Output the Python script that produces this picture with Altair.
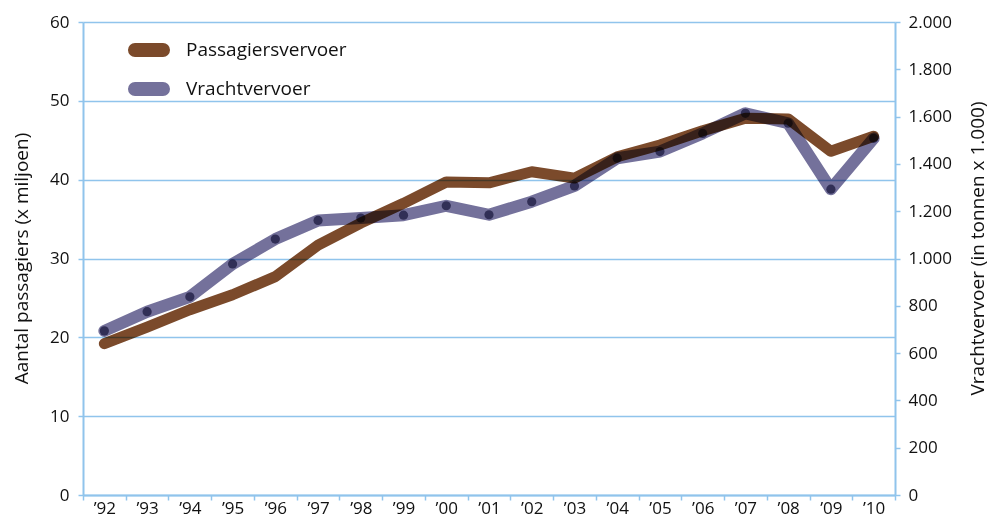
import altair as alt
import pandas as pd

years = ["’92", "’93", "’94", "’95", "’96", "’97", "’98", "’99", "’00", "’01",
         "’02", "’03", "’04", "’05", "’06", "’07", "’08", "’09", "’10"]
passagiers = [19.2, 21.3, 23.5, 25.4, 27.7, 31.7, 34.5, 37.0, 39.7, 39.6,
              41.0, 40.2, 42.9, 44.4, 46.2, 47.8, 47.7, 43.6, 45.5]
vracht = [694, 775, 838, 977, 1082, 1161, 1171, 1183, 1223, 1185,
          1240, 1307, 1424, 1452, 1529, 1614, 1572, 1293, 1508]

series_names = ["Passagiersvervoer", "Vrachtvervoer"]
series_colors = ["#7b4a2b", "#74719b"]
left_ticks = [0, 10, 20, 30, 40, 50, 60]
right_ticks = [0, 200, 400, 600, 800, 1000, 1200, 1400, 1600, 1800, 2000]

df = pd.DataFrame({"jaar": years, "passagiers": passagiers, "vracht": vracht})

FONT = "Open Sans"
AX = "#90c4ec"
PILL = ("M -1.556 -0.167 L 1.556 -0.167 A 0.167 0.167 0 0 1 1.556 0.167 "
        "L -1.556 0.167 A 0.167 0.167 0 0 1 -1.556 -0.167 Z")

x = alt.X("jaar:O", sort=years, title=None,
          scale=alt.Scale(type="band", paddingInner=0, paddingOuter=0),
          axis=alt.Axis(tickBand="extent", labelAngle=0, labelFontSize=17,
                        labelBaseline="alphabetic", labelPadding=13,
                        tickSize=5, grid=False))

color_scale = alt.Scale(domain=series_names, range=series_colors)
color = alt.Color("serie:N", scale=color_scale,
                  legend=alt.Legend(title=None, labelLimit=400))

base = alt.Chart(df)

pass_line = base.transform_calculate(serie="'Passagiersvervoer'").mark_line(
    strokeWidth=11, strokeCap="round", strokeJoin="round", blend="multiply").encode(
    x=x,
    y=alt.Y("passagiers:Q", scale=alt.Scale(domain=[0, 60], nice=False),
            axis=alt.Axis(values=left_ticks, title="Aantal passagiers (x miljoen)",
                          orient="left", grid=True, tickSize=5, labelPadding=9,
                          labelFontSize=17, titleFontSize=19,
                          titleX=-62, titleY=236, titleBaseline="middle")),
    color=color,
)

vr_line = base.transform_calculate(serie="'Vrachtvervoer'").mark_line(
    strokeWidth=12, strokeCap="round", strokeJoin="round", blend="multiply").encode(
    x=x,
    y=alt.Y("vracht:Q", scale=alt.Scale(domain=[0, 2000], nice=False),
            axis=alt.Axis(values=right_ticks, title="Vrachtvervoer (in tonnen x 1.000)",
                          orient="right", grid=False, tickSize=5, labelPadding=8,
                          labelFontSize=17, titleFontSize=19, titleAngle=270,
                          labelExpr="replace(format(datum.value, ','), ',', '.')",
                          titleX=82, titleY=226, titleBaseline="middle")),
    color=color,
)

vr_pts = base.mark_circle(size=85, opacity=1, blend="multiply", color="#6b698d").encode(
    x=x,
    y=alt.Y("vracht:Q", scale=alt.Scale(domain=[0, 2000], nice=False), axis=None),
)

chart = alt.layer(pass_line, vr_line, vr_pts).resolve_scale(
    y="independent"
).properties(
    width=812, height=473,
    autosize=alt.AutoSizeParams(type="none"),
    padding={"left": 75, "top": 14, "right": 94, "bottom": 23},
).configure_view(stroke=None).configure_axis(
    labelFont=FONT, titleFont=FONT, labelColor="#111", titleColor="#111",
    titleFontWeight="normal",
    domainColor=AX, domainWidth=2, tickColor=AX, tickWidth=1.5,
    gridColor=AX, gridWidth=1.4,
).configure_legend(
    orient="none", legendX=51.5, legendY=13.5, padding=0,
    symbolType=PILL, symbolSize=324, symbolStrokeWidth=11,
    symbolOpacity=1, labelFont=FONT, labelFontSize=19, labelColor="#111",
    labelOffset=22.5, rowPadding=-28,
)

chart.save("out.html", embed_options={"renderer": "svg", "actions": False})
